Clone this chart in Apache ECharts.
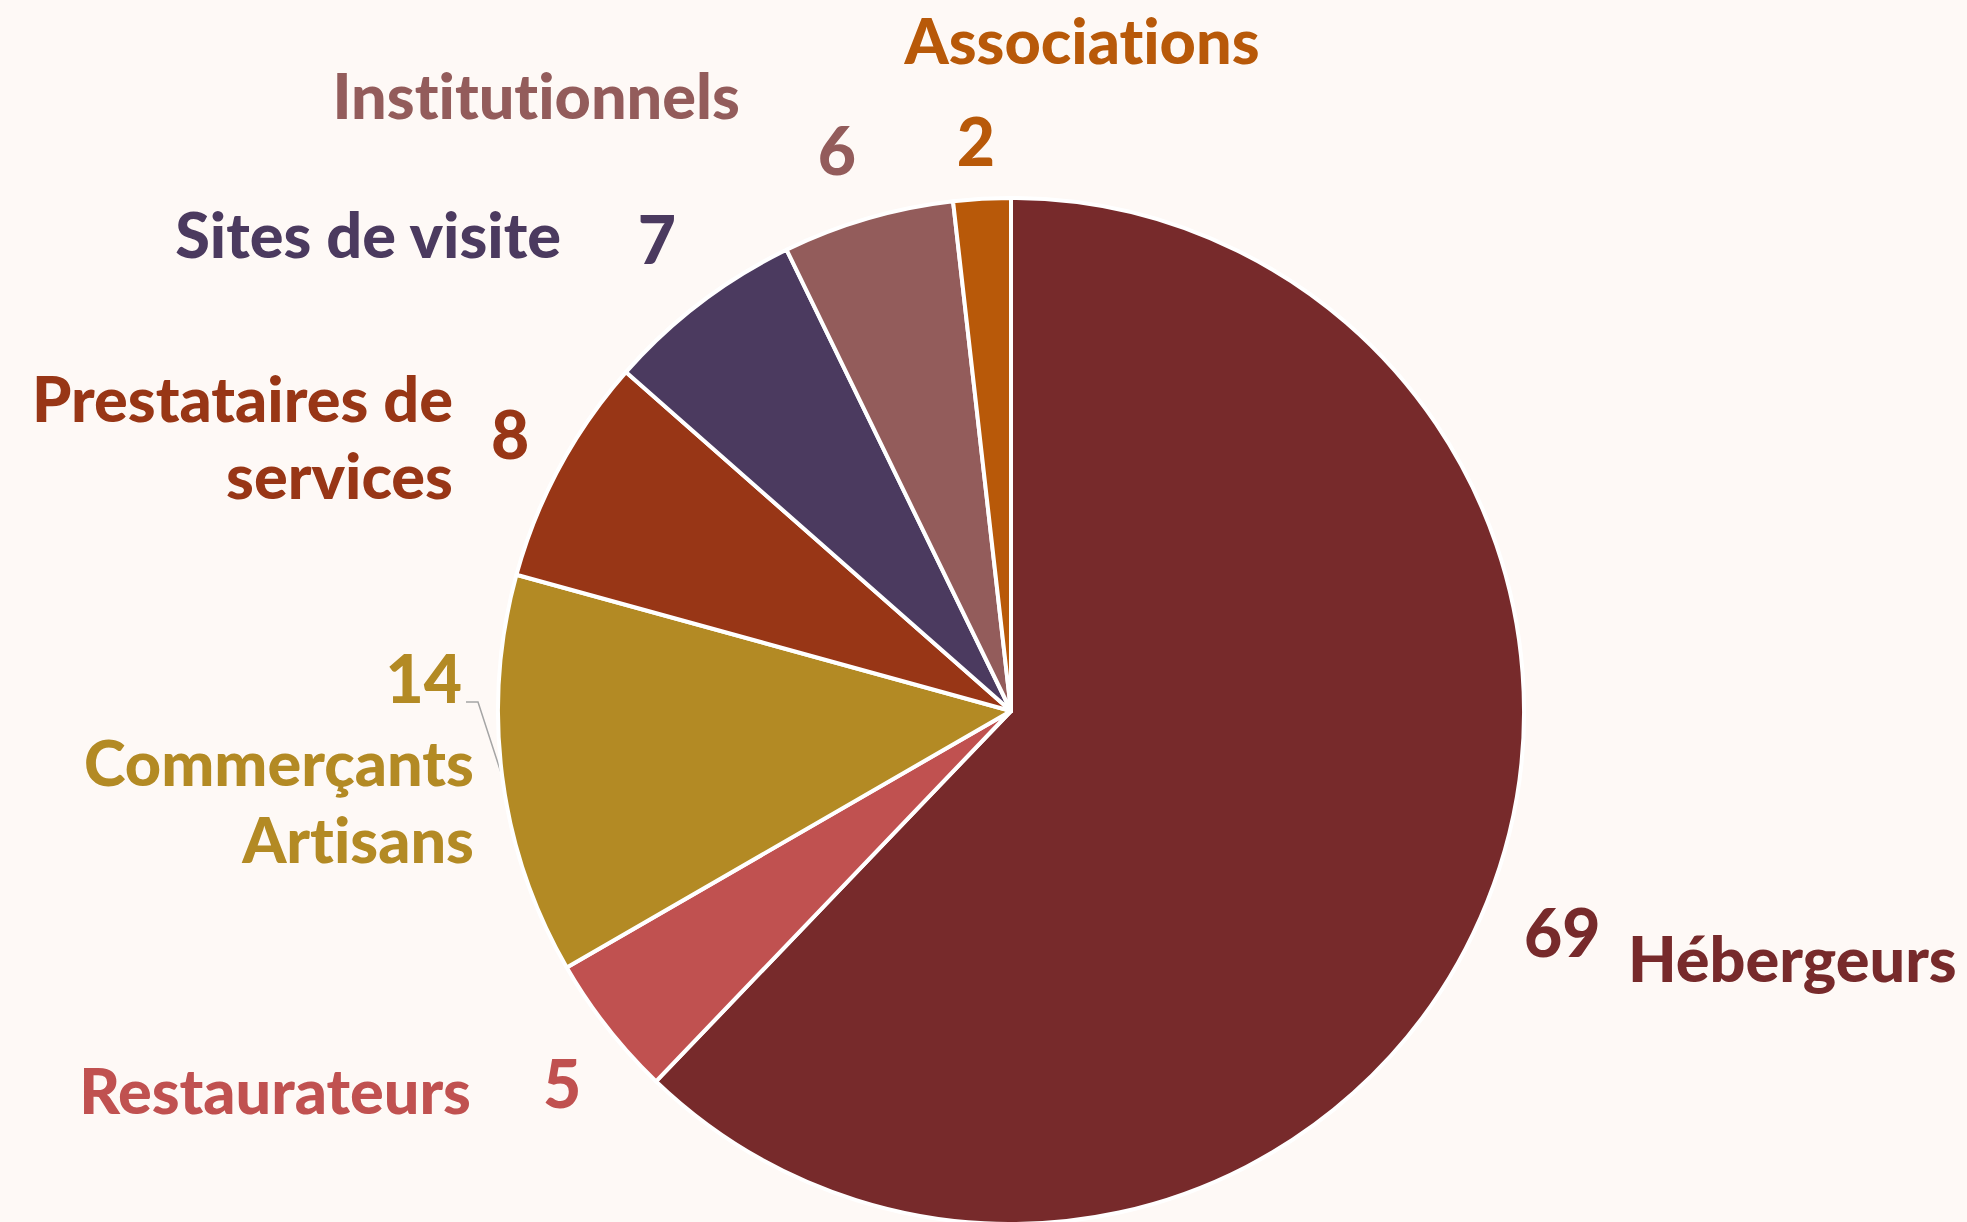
<!DOCTYPE html>
<html>
<head>
<meta charset="utf-8">
<script src="https://cdn.jsdelivr.net/npm/echarts@6/dist/echarts.min.js"></script>
<style>
html, body { margin: 0; background: #fef9f6; }
#main { width: 1967px; height: 1222px; }
#main text { font-variant-ligatures: none; }
</style>
</head>
<body>
<div id="main"></div>
<script>
var categories = ['Hébergeurs', 'Restaurateurs', 'Commerçants\nArtisans', 'Prestataires de\nservices', 'Sites de visite', 'Institutionnels', 'Associations'];
var counts = [69, 5, 14, 8, 7, 6, 2];
var colors = ['#772a2b', '#c05150', '#b38a24', '#983616', '#4b3a5f', '#935c5b', '#b85909'];

// where each label sits: [x, y, align]
var valueSpots = [[1524, 931, 'left'], [543, 1082, 'left'], [462, 677, 'right'], [491, 433, 'left'], [657, 238, 'center'], [837, 149, 'center'], [976, 140, 'center']];
var nameSpots = [[1628, 957, 'left'], [471, 1089, 'right'], [474, 800, 'right'], [453, 436, 'right'], [561, 233, 'right'], [740, 94, 'right'], [1082, 39, 'center']];

var pieCenter = [1011, 711];
var pieRadius = 513;

function midPoint(idx) {
    var total = 0, before = 0;
    for (var i = 0; i < counts.length; i++) {
        total += counts[i];
        if (i < idx) before += counts[i];
    }
    var ang = (90 - (before + counts[idx] / 2) / total * 360) * Math.PI / 180;
    return [pieCenter[0] + pieRadius * Math.cos(ang), pieCenter[1] - pieRadius * Math.sin(ang)];
}

// svg so the text can drop Lato's "ti" ligature
var myChart = echarts.init(document.getElementById('main'), null, { renderer: 'svg' });

var option = {
    backgroundColor: '#fef9f6',
    animation: false,
    series: [{
        // names, sectors are transparent
        type: 'pie',
        center: pieCenter,
        radius: pieRadius,
        silent: true,
        avoidLabelOverlap: false,
        itemStyle: { color: 'rgba(0,0,0,0)', borderWidth: 0 },
        label: {
            show: true,
            position: 'outside',
            formatter: '{b}',
            fontFamily: 'Lato',
            fontWeight: 900,
            fontSize: 63,
            lineHeight: 77
        },
        labelLine: { show: false },
        labelLayout: function (p) {
            var s = nameSpots[p.dataIndex];
            return { x: s[0], y: s[1], align: s[2], verticalAlign: 'middle' };
        },
        data: counts.map(function (v, i) {
            return { name: categories[i], value: v, label: { color: colors[i], align: nameSpots[i][2] } };
        })
    }, {
        // sectors and counts
        type: 'pie',
        center: pieCenter,
        radius: pieRadius,
        startAngle: 90,
        clockwise: true,
        avoidLabelOverlap: false,
        itemStyle: { borderColor: '#ffffff', borderWidth: 4 },
        label: {
            show: true,
            position: 'outside',
            formatter: '{c}',
            fontFamily: 'Lato',
            fontWeight: 900,
            fontSize: 66
        },
        labelLine: { show: false, lineStyle: { color: '#a5a5a5', width: 1.5 } },
        labelLayout: function (p) {
            var s = valueSpots[p.dataIndex];
            var out = { x: s[0], y: s[1], align: s[2], verticalAlign: 'middle' };
            if (p.dataIndex === 2) {
                var a = (p.labelLinePoints && p.labelLinePoints[0]) || midPoint(2);
                out.labelLinePoints = [a, [s[0] + 16, s[1] + 25], [s[0] + 4, s[1] + 25]];
            }
            return out;
        },
        data: counts.map(function (v, i) {
            return {
                name: categories[i],
                value: v,
                itemStyle: { color: colors[i] },
                label: { color: colors[i] },
                labelLine: { show: i === 2 }
            };
        })
    }]
};

myChart.setOption(option);
window.onresize = myChart.resize;
</script>
</body>
</html>
